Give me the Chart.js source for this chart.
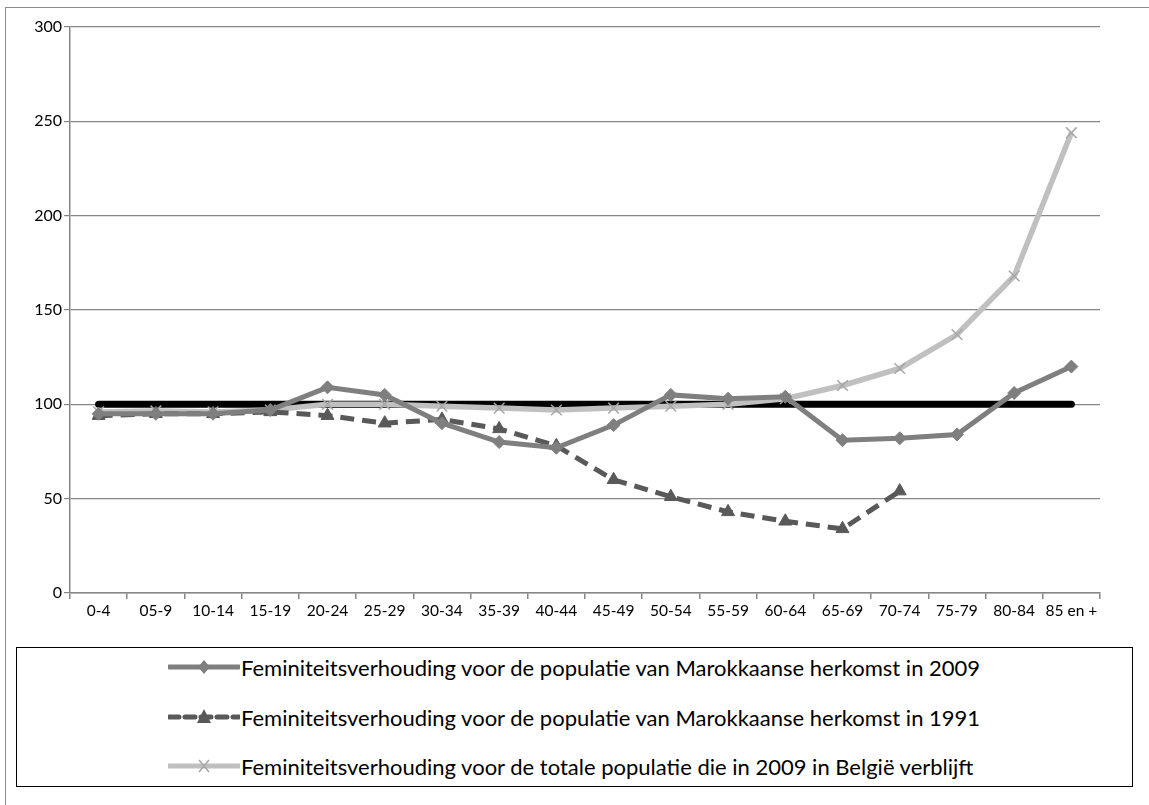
<!DOCTYPE html>
<html>
<head>
<meta charset="utf-8">
<script src="https://cdn.jsdelivr.net/npm/chart.js@4.4.0/dist/chart.umd.min.js"></script>
<style>
  body { margin: 0; background: #fff; font-family: Lato, 'Open Sans', sans-serif; }
  #frame { position: absolute; left: 5px; top: 7px; width: 1150px; height: 800px;
           border-left: 1.5px solid #8c8c8c; border-top: 1.5px solid #8c8c8c; }
  #wrap { position: absolute; left: 6px; top: 8px; width: 1141px; height: 630px; }
  #legend { position: absolute; left: 16px; top: 647px; width: 1115px; height: 138px;
            border: 1.5px solid #000; }
  .legend-item { position: absolute; left: 151px; height: 26px; display: flex; align-items: center;
                 font-size: 22px; color: #000; white-space: nowrap; }
  .legend-item svg { margin-right: 1px; }
</style>
</head>
<body>
<div id="frame"></div>
<div id="wrap"><canvas id="chart"></canvas></div>
<div id="legend"></div>
<script>
const categories = ['0-4', '05-9', '10-14', '15-19', '20-24', '25-29', '30-34', '35-39', '40-44',
  '45-49', '50-54', '55-59', '60-64', '65-69', '70-74', '75-79', '80-84', '85 en +'];

const marokko2009 = [95, 95, 95, 97, 109, 105, 90, 80, 77, 89, 105, 103, 104, 81, 82, 84, 106, 120];
const marokko1991 = [94, 95, 95, 96, 94, 90, 92, 87, 78, 60, 51, 43, 38, 34, 54, null, null, null];
const totaal2009 = [96, 96.5, 96, 97, 100, 100, 99, 98, 97, 98, 99, 100, 103, 110, 119, 137, 168, 244];
const evenwicht = [100, 100, 100, 100, 100, 100, 100, 100, 100, 100, 100, 100, 100, 100, 100, 100, 100, 100];

const label2009 = 'Feminiteitsverhouding voor de populatie van Marokkaanse herkomst in 2009';
const label1991 = 'Feminiteitsverhouding voor de populatie van Marokkaanse herkomst in 1991';
const labelTotaal = 'Feminiteitsverhouding voor de totale populatie die in 2009 in België verblijft';

const axisGrey = '#868686';

new Chart(document.getElementById('chart'), {
  type: 'line',
  data: {
    labels: categories,
    datasets: [
      {
        label: label2009,
        data: marokko2009,
        borderColor: '#7f7f7f',
        backgroundColor: '#7f7f7f',
        borderWidth: 5,
        pointStyle: 'rectRot',
        pointRadius: 6.5,
        pointBorderWidth: 1,
        tension: 0
      },
      {
        label: label1991,
        data: marokko1991,
        borderColor: '#595959',
        backgroundColor: '#595959',
        borderWidth: 5,
        borderDash: [14, 8],
        pointStyle: 'triangle',
        pointRadius: 7.5,
        pointBorderWidth: 1,
        spanGaps: false,
        tension: 0
      },
      {
        label: labelTotaal,
        data: totaal2009,
        borderColor: '#c0c0c0',
        backgroundColor: '#a6a6a6',
        borderWidth: 5.5,
        pointStyle: 'crossRot',
        pointRadius: 7.5,
        pointBorderColor: '#a6a6a6',
        pointBorderWidth: 1.5,
        tension: 0
      },
      {
        label: 'evenwicht',
        data: evenwicht,
        borderColor: '#000',
        borderWidth: 7,
        borderCapStyle: 'round',
        pointRadius: 0,
        tension: 0
      }
    ]
  },
  options: {
    responsive: true,
    maintainAspectRatio: false,
    animation: false,
    layout: { padding: { top: 19, right: 47, bottom: 0, left: 0 } },
    plugins: { legend: { display: false }, tooltip: { enabled: false } },
    scales: {
      x: {
        offset: true,
        grid: { offset: true, drawOnChartArea: false, color: axisGrey, tickLength: 6, lineWidth: 1.5 },
        border: { color: axisGrey, width: 1.5 },
        ticks: { color: '#000', font: { family: 'Lato', size: 15.5 }, maxRotation: 0, autoSkip: false, padding: 3 },
        afterFit: s => { s.height = 45; }
      },
      y: {
        min: 0,
        max: 300,
        ticks: { stepSize: 50, color: '#000', font: { family: 'Lato', size: 16 }, padding: 2 },
        grid: { color: axisGrey, lineWidth: 1.2, tickLength: 6 },
        border: { color: axisGrey, width: 1.5 },
        afterFit: s => { s.width = 64; }
      }
    }
  }
});

// handmatige legende met lijn + markering
const legendData = [
  { label: label2009, color: '#7f7f7f', dash: '', marker: 'diamond', top: 6 },
  { label: label1991, color: '#595959', dash: '10 6', marker: 'triangle', top: 56 },
  { label: labelTotaal, color: '#c0c0c0', dash: '', marker: 'cross', top: 105 }
];

const legendDiv = document.getElementById('legend');
legendData.forEach(item => {
  let mark = '';
  if (item.marker === 'diamond') mark = `<polygon points="36,6 42,13 36,20 30,13" fill="${item.color}"/>`;
  if (item.marker === 'triangle') mark = `<polygon points="36,5 43,19 29,19" fill="${item.color}"/>`;
  if (item.marker === 'cross') mark = `<path d="M31,7 L41,19 M41,7 L31,19" stroke="#a6a6a6" stroke-width="1.5"/>`;
  const entry = document.createElement('div');
  entry.classList.add('legend-item');
  entry.style.top = item.top + 'px';
  entry.innerHTML = `<svg width="72" height="26"><line x1="1" y1="13" x2="71" y2="13" stroke="${item.color}" stroke-width="5" stroke-linecap="round" stroke-dasharray="${item.dash}"/>${mark}</svg>${item.label}`;
  legendDiv.appendChild(entry);
});
</script>
</body>
</html>
